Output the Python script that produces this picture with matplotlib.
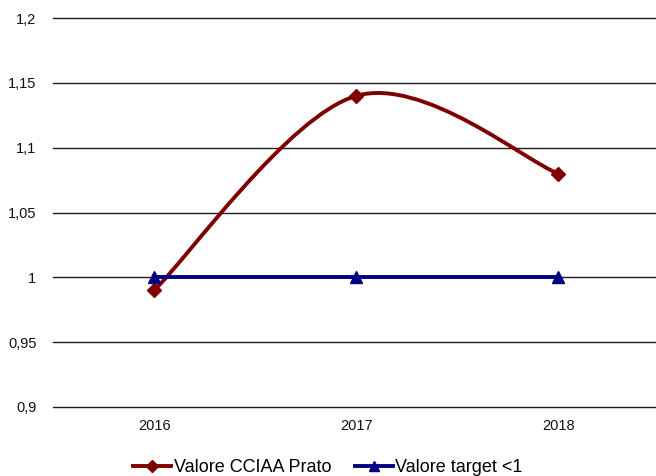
import matplotlib
matplotlib.use("Agg")
import matplotlib.pyplot as plt
from matplotlib.path import Path
from matplotlib.patches import PathPatch
from matplotlib.lines import Line2D

plt.rcParams['font.family'] = ['Liberation Sans', 'DejaVu Sans']

years = ['2016', '2017', '2018']
prato = [0.99, 1.14, 1.08]
target = [1.0, 1.0, 1.0]
yticks = [0.9, 0.95, 1.0, 1.05, 1.1, 1.15, 1.2]
ylabels = ['0,9', '0,95', '1', '1,05', '1,1', '1,15', '1,2']

red = '#800000'
blue = '#000080'


def smooth_path(xs, ys):
    # bezier segments like a spreadsheet "smoothed line"
    pts = list(zip(xs, ys))
    ext = [pts[0]] + pts + [pts[-1]]
    verts = [pts[0]]
    codes = [Path.MOVETO]
    for i in range(1, len(ext) - 2):
        p0, p1, p2, p3 = ext[i - 1], ext[i], ext[i + 1], ext[i + 2]
        c1 = (p1[0] + (p2[0] - p0[0]) / 6, p1[1] + (p2[1] - p0[1]) / 6)
        c2 = (p2[0] - (p3[0] - p1[0]) / 6, p2[1] - (p3[1] - p1[1]) / 6)
        verts += [c1, c2, p2]
        codes += [Path.CURVE4] * 3
    return Path(verts, codes)


fig = plt.figure(figsize=(6.56, 4.76), dpi=100)
ax = fig.add_axes([0.081, 0.145, 0.924, 0.817])

x = list(range(len(years)))
ax.set_xlim(-0.5, 2.5)
ax.set_ylim(0.9, 1.2)

ax.set_yticks(yticks)
ax.set_yticklabels(ylabels)
ax.set_xticks(x)
ax.set_xticklabels(years)
for yv in yticks:
    ax.axhline(yv, color='#202020', linewidth=1, zorder=1, clip_on=False)
for s in ax.spines.values():
    s.set_visible(False)
ax.tick_params(length=0, labelsize=10.5, labelcolor='#111111')
ax.tick_params(axis='y', pad=12)
ax.tick_params(axis='x', pad=9)

ax.add_patch(PathPatch(smooth_path(x, prato), facecolor='none', edgecolor=red,
                       linewidth=2.8, zorder=3))
ax.plot(x, prato, linestyle='none', marker='D', markersize=7, color=red, zorder=4)
ax.plot(x, target, color=blue, linewidth=2.8, marker='^', markersize=8, zorder=5)

handles = [Line2D([], [], color=red, linewidth=2.8, marker='D', markersize=6),
           Line2D([], [], color=blue, linewidth=2.8, marker='^', markersize=7)]
fig.legend(handles, ['Valore CCIAA Prato', 'Valore target <1'], loc='center',
           bbox_to_anchor=(0.5, 0.018), ncol=2, frameon=False, fontsize=13,
           handlelength=2.1, handletextpad=0.15, columnspacing=1.3,
           borderpad=0)

fig.savefig('out.png', dpi=100)
